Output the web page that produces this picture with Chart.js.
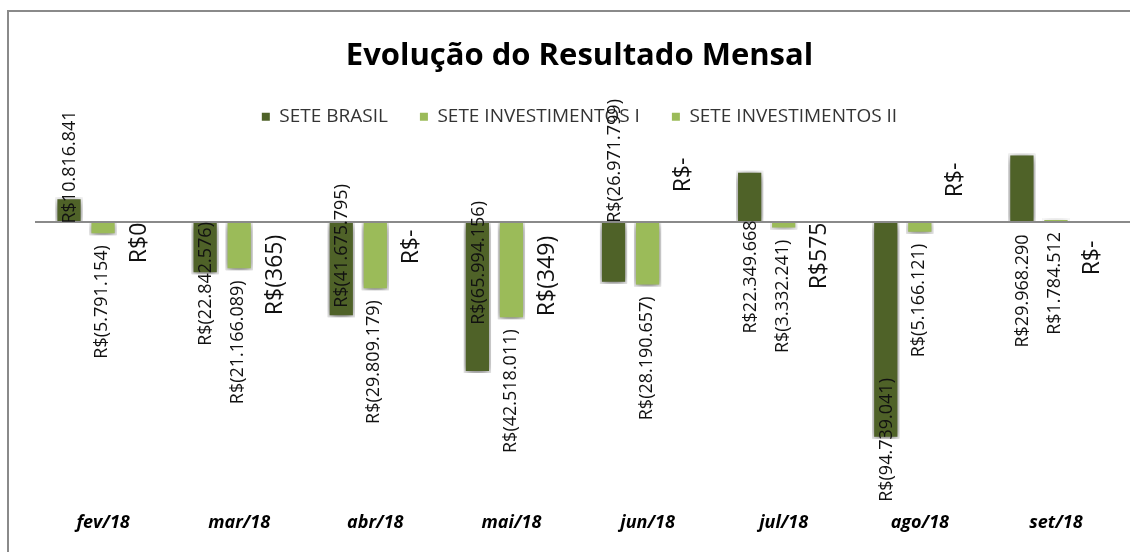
<!DOCTYPE html>
<html><head><meta charset="utf-8">
<script src="https://cdn.jsdelivr.net/npm/chart.js@4.4.1/dist/chart.umd.min.js"></script>
<style>html,body{margin:0;padding:0;background:#fff;}#wrap{width:1130px;height:552px;position:relative;}canvas{display:block;}</style>
</head><body><div id="wrap"><canvas id="c" width="1130" height="552" style="width:1130px;height:552px"></canvas></div>
<script>
const categories = ['fev/18','mar/18','abr/18','mai/18','jun/18','jul/18','ago/18','set/18'];
const seriesNames = ['SETE BRASIL','SETE INVESTIMENTOS I','SETE INVESTIMENTOS II'];
const seteBrasil = [10816841, -22842576, -41675795, -65994156, -26971799, 22349668, -94739041, 29968290];
const seteInvestimentosI = [-5791154, -21166089, -29809179, -42518011, -28190657, -3332241, -5166121, 1784512];
const seteInvestimentosII = [0.2, -365, 0, -349, 0, 575, 0, 0];

const DARK = '#4F6228', LIGHT = '#9BBB59';

function fmtBRL(v){
  if (v === 0) return 'R$-';
  const n = Math.round(Math.abs(v));
  const s = n.toString().replace(/\B(?=(\d{3})+(?!\d))/g, '.');
  return (v < 0 && n > 0) ? 'R$(' + s + ')' : 'R$' + s;
}

// label placement (text styling / nudges, px relative to the zero line)
const labelStyle = [
  {mode:'center', nudge:[-55,62,24,41,-61,55,218,69], size:18, dx:1},
  {mode:'below', gap:10, size:18, dx:-1},
  {mode:'center', nudge:[21,53,25,54,-47,34,-42,36], size:23, dx:2}
];

const chartDecor = {
  id:'chartDecor',
  beforeDraw(chart){
    const ctx = chart.ctx;
    ctx.save();
    ctx.fillStyle = '#ffffff';
    ctx.fillRect(0,0,chart.width,chart.height);
    ctx.strokeStyle = '#8a8a8a';
    ctx.lineWidth = 2;
    ctx.beginPath();
    ctx.moveTo(8,11); ctx.lineTo(chart.width,11);
    ctx.moveTo(8,10); ctx.lineTo(8,chart.height);
    ctx.stroke();
    ctx.restore();
  },
  beforeDatasetDraw(chart, args){
    const ctx = chart.ctx;
    ctx.save();
    if (args.index !== 2){
      ctx.shadowColor = 'rgba(0,0,0,0.6)';
      ctx.shadowBlur = 10;
      ctx.shadowOffsetX = 0;
      ctx.shadowOffsetY = 2;
    }
  },
  afterDatasetDraw(chart){
    chart.ctx.restore();
  },
  afterDatasetsDraw(chart){
    const ctx = chart.ctx;
    const y = chart.scales.y;
    const zeroY = y.getPixelForValue(0);
    const area = chart.chartArea;
    ctx.save();
    ctx.strokeStyle = '#8a8a8a';
    ctx.lineWidth = 2;
    ctx.beginPath();
    ctx.moveTo(area.left, zeroY);
    ctx.lineTo(chart.width, zeroY);
    ctx.stroke();
    ctx.restore();

    chart.data.datasets.forEach((ds, di) => {
      const meta = chart.getDatasetMeta(di);
      const st = labelStyle[di];
      meta.data.forEach((el, j) => {
        const v = ds.data[j];
        const txt = fmtBRL(v);
        ctx.save();
        ctx.font = st.size + 'px "Open Sans"';
        ctx.fillStyle = '#111111';
        ctx.textBaseline = 'middle';
        let ay, align;
        if (st.mode === 'below'){
          ay = Math.max(el.y, el.base) + st.gap;
          align = 'right';
        } else {
          ay = zeroY + st.nudge[j];
          align = 'center';
        }
        ctx.translate(el.x + st.dx, ay);
        ctx.rotate(-Math.PI/2);
        ctx.textAlign = align;
        ctx.fillText(txt, 0, 0);
        ctx.restore();
      });
    });
  }
};

new Chart(document.getElementById('c'), {
  type:'bar',
  data:{
    labels: categories,
    datasets:[
      {label: seriesNames[0], data: seteBrasil, backgroundColor: DARK, borderColor:'#ffffff', borderWidth:2},
      {label: seriesNames[1], data: seteInvestimentosI, backgroundColor: LIGHT, borderColor:'#ffffff', borderWidth:2},
      {label: seriesNames[2], data: seteInvestimentosII, backgroundColor: LIGHT, borderWidth:0}
    ]
  },
  options:{
    responsive:false,
    animation:false,
    devicePixelRatio:1,
    categoryPercentage:0.75,
    barPercentage:0.8,
    layout:{padding:{left:35, right:6, top:0, bottom:2}},
    plugins:{
      title:{
        display:true,
        text:'Evolução do Resultado Mensal',
        color:'#000000',
        font:{family:'Open Sans', size:31, weight:'bold'},
        padding:{top:38, bottom:0}
      },
      legend:{
        display:true,
        maxHeight:62,
        labels:{
          boxWidth:8, boxHeight:8, padding:32,
          color:'#333333',
          font:{family:'Open Sans', size:19},
          generateLabels(chart){
            return Chart.defaults.plugins.legend.labels.generateLabels(chart).map(l => Object.assign(l, {lineWidth:0, strokeStyle:'rgba(0,0,0,0)'}));
          }
        }
      },
      tooltip:{enabled:false}
    },
    scales:{
      x:{
        grid:{display:false, drawTicks:false},
        border:{display:false},
        ticks:{color:'#000000', padding:16, maxRotation:0, autoSkip:false,
          font:{family:'Open Sans', size:18, weight:'bold', style:'italic'}}
      },
      y:{
        display:false,
        min:-120000000,
        max:37500000
      }
    }
  },
  plugins:[chartDecor]
});
</script>
</body></html>
